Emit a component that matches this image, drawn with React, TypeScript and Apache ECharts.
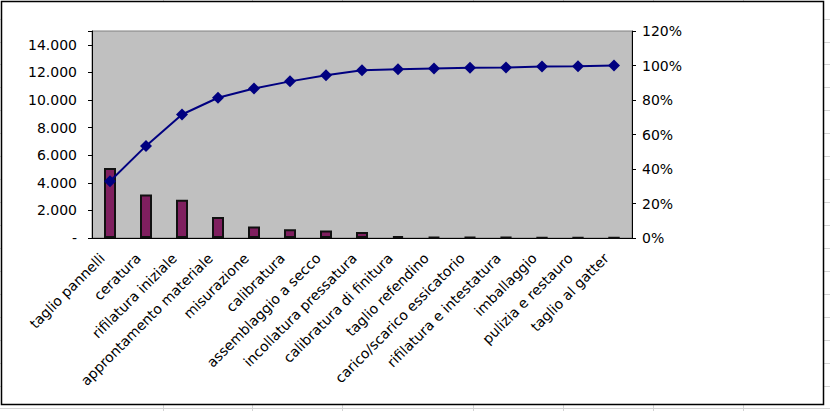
import React, { useEffect, useRef } from 'react';
import * as echarts from 'echarts';

// Fasi di lavorazione (ordinate per Pareto)
const categories = [
  'taglio pannelli',
  'ceratura',
  'rifilatura iniziale',
  'approntamento materiale',
  'misurazione',
  'calibratura',
  'assemblaggio a secco',
  'incollatura pressatura',
  'calibratura di finitura',
  'taglio refendino',
  'carico/scarico essicatorio',
  'rifilatura e intestatura',
  'imballaggio',
  'pulizia e restauro',
  'taglio al gatter',
];

// valori delle barre (asse sinistro)
const barValues = [5070, 3150, 2780, 1520, 830, 640, 540, 440, 130, 80, 70, 60, 50, 50, 40];

// percentuale cumulata (asse destro)
const cumulativePct = [32.9, 53.4, 71.6, 81.3, 86.7, 90.8, 94.3, 97.2, 97.8, 98.3, 98.7, 98.8, 99.4, 99.5, 100];

// linee del foglio di calcolo visibili fuori dalla cornice
const sheetCols = [163, 252, 342, 473, 563, 653, 743];
const sheetRows = [19, 42, 64, 87, 110, 133, 156, 179, 202, 225, 248, 271, 294, 317, 340, 363, 386, 408];

const FONT = 'DejaVu Sans';

function formatThousands(v: number) {
  if (v === 0) return '-';
  if (v > 14000) return '';
  return String(v).replace(/\B(?=(\d{3})+(?!\d))/g, '.');
}

export default function App() {
  const chartRef = useRef<HTMLDivElement>(null);

  useEffect(() => {
    document.body.style.margin = '0';
    const chart = echarts.init(chartRef.current!, null, { renderer: 'svg' });

    const sheetLines: any[] = [
      ...sheetCols.map((x) => ({
        type: 'line',
        z: -20,
        shape: { x1: x + 0.5, y1: 0, x2: x + 0.5, y2: 411 },
        style: { stroke: '#d4d4d4', lineWidth: 1 },
      })),
      ...sheetRows.map((y) => ({
        type: 'line',
        z: -20,
        shape: { x1: 0, y1: y + 0.5, x2: 830, y2: y + 0.5 },
        style: { stroke: '#d4d4d4', lineWidth: 1 },
      })),
    ];

    chart.setOption({
      animation: false,
      textStyle: { fontFamily: FONT },
      graphic: [
        ...sheetLines,
        {
          type: 'rect',
          z: -10,
          shape: { x: 1.5, y: 1.5, width: 822, height: 403 },
          style: { fill: '#fff', stroke: '#000', lineWidth: 1.5 },
        },
      ],
      grid: {
        left: 92,
        top: 31,
        right: 198,
        bottom: 173,
        show: true,
        backgroundColor: '#c0c0c0',
        borderColor: '#808080',
        borderWidth: 1,
      },
      xAxis: {
        type: 'category',
        data: categories,
        axisLine: { lineStyle: { color: '#000', width: 1 } },
        axisTick: { length: 4, lineStyle: { color: '#000' } },
        axisLabel: {
          interval: 0,
          rotate: 45,
          fontSize: 14,
          color: '#000',
          fontFamily: FONT,
          margin: 10,
          padding: [0, 11, 0, 0],
        },
      },
      yAxis: [
        {
          type: 'value',
          min: 0,
          max: 15000,
          interval: 2000,
          splitLine: { show: false },
          axisLine: { show: true, lineStyle: { color: '#000' } },
          axisTick: { show: true, length: 4, lineStyle: { color: '#000' } },
          axisLabel: {
            formatter: formatThousands,
            fontSize: 14,
            color: '#000',
            fontFamily: FONT,
            margin: 15,
          },
        },
        {
          type: 'value',
          min: 0,
          max: 120,
          interval: 20,
          position: 'right',
          splitLine: { show: false },
          axisLine: { show: true, lineStyle: { color: '#000' } },
          axisTick: { show: true, length: 4, lineStyle: { color: '#000' } },
          axisLabel: {
            formatter: '{value}%',
            fontSize: 14,
            color: '#000',
            fontFamily: FONT,
            margin: 10,
          },
        },
      ],
      series: [
        {
          type: 'bar',
          data: barValues,
          barWidth: 12,
          itemStyle: { color: '#7f1f5f', borderColor: '#111', borderWidth: 2 },
        },
        {
          type: 'line',
          yAxisIndex: 1,
          data: cumulativePct,
          symbol: 'diamond',
          symbolSize: [12, 12],
          lineStyle: { color: '#000080', width: 2 },
          itemStyle: { color: '#000080' },
        },
      ],
    });

    return () => {
      chart.dispose();
    };
  }, []);

  return <div ref={chartRef} style={{ width: '830px', height: '411px' }} />;
}
